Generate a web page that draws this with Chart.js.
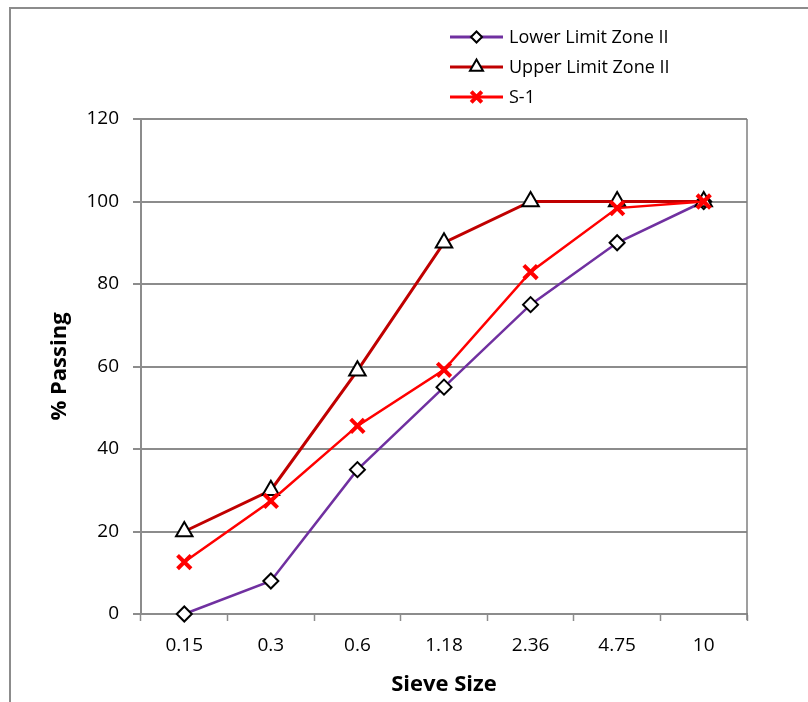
<!DOCTYPE html>
<html>
<head>
<meta charset="utf-8">
<script src="https://cdn.jsdelivr.net/npm/chart.js@4.4.1/dist/chart.umd.min.js"></script>
<style>
  html, body { margin: 0; padding: 0; background: #fff; }
  #wrap { width: 808px; height: 702px; position: relative; }
</style>
</head>
<body>
<div id="wrap"><canvas id="sieve-chart"></canvas></div>
<script>
// Sieve analysis data
const sieveSizes = ['0.15', '0.3', '0.6', '1.18', '2.36', '4.75', '10'];
const lowerLimit = [0, 8, 35, 55, 75, 90, 100];
const upperLimit = [20, 30, 59, 90, 100, 100, 100];
const sampleS1 = [12.6, 27.4, 45.6, 59.2, 82.9, 98.4, 100];
const yTicks = [0, 20, 40, 60, 80, 100, 120];

const FONT = "'Open Sans', 'Noto Sans', sans-serif";

// Outer frame + right plot border
const framePlugin = {
    id: 'frame',
    beforeDraw(chart) {
        const c = chart.ctx;
        c.save();
        c.fillStyle = '#fff';
        c.fillRect(0, 0, chart.width, chart.height);
        c.strokeStyle = '#8c8c8c';
        c.lineWidth = 2;
        c.strokeRect(10, 8, chart.width + 10, chart.height + 10);
        c.restore();
    },
    afterDatasetsDraw(chart) {
        const a = chart.chartArea;
        const c = chart.ctx;
        c.save();
        c.strokeStyle = '#7f7f7f';
        c.lineWidth = 1.5;
        c.beginPath();
        c.moveTo(a.right, a.top);
        c.lineTo(a.right, a.bottom + 6);
        c.stroke();
        c.restore();
    }
};

// Legend drawn as line + marker, like the spreadsheet legend
const legendPlugin = {
    id: 'lineLegend',
    afterDraw(chart) {
        const c = chart.ctx;
        const x0 = 450, x1 = 503, rowY = [37, 67, 97];
        chart.data.datasets.forEach((ds, i) => {
            const y = rowY[i];
            c.save();
            c.strokeStyle = ds.borderColor;
            c.lineWidth = 3;
            c.beginPath();
            c.moveTo(x0, y);
            c.lineTo(x1, y);
            c.stroke();
            c.fillStyle = ds.pointBackgroundColor;
            c.strokeStyle = ds.pointBorderColor;
            c.lineWidth = ds.pointBorderWidth;
            Chart.helpers.drawPoint(c, {
                pointStyle: ds.pointStyle,
                radius: ds.pointRadius - 2,
                borderWidth: ds.pointBorderWidth
            }, (x0 + x1) / 2, y);
            c.fillStyle = '#000';
            c.font = '18px ' + FONT;
            c.textBaseline = 'middle';
            c.fillText(ds.label, x1 + 6, y + 1);
            c.restore();
        });
    }
};

new Chart(document.getElementById('sieve-chart'), {
    type: 'line',
    data: {
        labels: sieveSizes,
        datasets: [
            {
                label: 'Lower Limit Zone II',
                data: lowerLimit,
                borderColor: '#7030a0',
                borderWidth: 2.5,
                pointStyle: 'rectRot',
                pointRadius: 7.5,
                pointBackgroundColor: '#fff',
                pointBorderColor: '#000',
                pointBorderWidth: 2,
                order: 2
            },
            {
                label: 'Upper Limit Zone II',
                data: upperLimit,
                borderColor: '#c00000',
                borderWidth: 3,
                pointStyle: 'triangle',
                pointRadius: 9.5,
                pointBackgroundColor: '#fff',
                pointBorderColor: '#000',
                pointBorderWidth: 2,
                order: 1
            },
            {
                label: 'S-1',
                data: sampleS1,
                borderColor: '#ff0000',
                borderWidth: 2.5,
                pointStyle: 'crossRot',
                pointRadius: 9.5,
                pointBackgroundColor: '#ff0000',
                pointBorderColor: '#ff0000',
                pointBorderWidth: 4,
                order: 0
            }
        ]
    },
    options: {
        responsive: true,
        maintainAspectRatio: false,
        animation: false,
        clip: false,
        layout: { padding: { left: 0, right: 61, top: 119, bottom: 0 } },
        plugins: {
            legend: { display: false },
            tooltip: { enabled: false }
        },
        elements: { line: { tension: 0 } },
        scales: {
            x: {
                offset: true,
                grid: {
                    offset: true,
                    drawOnChartArea: false,
                    drawTicks: true,
                    tickLength: 7,
                    tickWidth: 1.5,
                    tickColor: '#8c8c8c'
                },
                border: { color: '#8c8c8c', width: 2 },
                ticks: {
                    color: '#000',
                    font: { family: FONT, size: 19 },
                    padding: 13,
                    maxRotation: 0
                },
                title: {
                    display: true,
                    text: 'Sieve Size',
                    color: '#000',
                    font: { family: FONT, size: 22, weight: 'bold' },
                    padding: { top: 0 }
                },
                afterFit(scale) { scale.height = 88; }
            },
            y: {
                min: 0,
                max: 120,
                afterBuildTicks(scale) {
                    scale.ticks = yTicks.map(v => ({ value: v }));
                },
                grid: {
                    color: '#8c8c8c',
                    lineWidth: 2,
                    drawTicks: true,
                    tickLength: 8,
                    tickColor: '#8c8c8c'
                },
                border: { color: '#8c8c8c', width: 2 },
                ticks: {
                    color: '#000',
                    font: { family: FONT, size: 19 },
                    padding: 14
                },
                title: {
                    display: true,
                    text: '% Passing',
                    color: '#000',
                    font: { family: FONT, size: 22, weight: 'bold' },
                    padding: { top: 47, bottom: 0 }
                },
                afterFit(scale) { scale.width = 141; }
            }
        }
    },
    plugins: [framePlugin, legendPlugin]
});
</script>
</body>
</html>
